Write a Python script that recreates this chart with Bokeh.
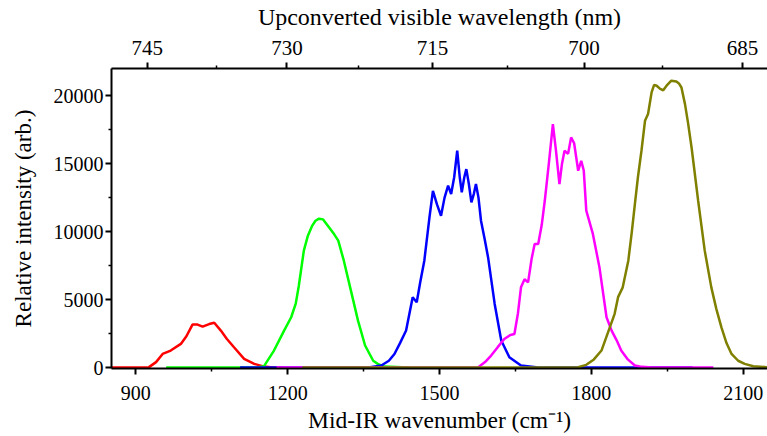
from bokeh.plotting import figure
from bokeh.models import LinearAxis, FixedTicker, CustomJSTickFormatter, Range1d
from bokeh.embed import file_html
from bokeh.resources import INLINE

# ---- data ----
red_x = [852, 880, 910, 926, 940, 953, 969, 989, 1000, 1012, 1022, 1032, 1045, 1055, 1068, 1080, 1094, 1114, 1134, 1154, 1170, 1190]
red_y = [0, 10, 0, 30, 400, 1000, 1250, 1740, 2300, 3160, 3160, 3010, 3200, 3300, 2720, 2100, 1490, 640, 270, 70, 0, 0]

green_x = [960, 1100, 1140, 1153, 1173, 1193, 1207, 1216, 1222, 1232, 1240, 1248, 1255, 1262, 1270, 1276, 1282, 1292, 1300, 1311, 1325, 1339, 1353, 1369, 1378, 1390, 1440]
green_y = [0, 0, 10, 90, 1250, 2720, 3700, 4700, 6000, 8600, 9700, 10400, 10800, 10950, 10900, 10600, 10300, 9800, 9340, 7860, 5660, 3450, 1620, 500, 270, 70, 0]

blue_x = [1106, 1360, 1385, 1400, 1411, 1422, 1434, 1447, 1455, 1462, 1470, 1480, 1487, 1495, 1503, 1510, 1517, 1523, 1529, 1535, 1540, 1544, 1549, 1553, 1558, 1563, 1568, 1572, 1577, 1582, 1589, 1596, 1609, 1622, 1638, 1661, 1695, 1760, 2000]
blue_y = [0, 0, 150, 500, 1000, 1800, 2720, 5170, 4800, 6300, 7860, 11000, 13000, 12000, 11170, 12500, 13380, 12770, 14000, 15950, 14000, 12890, 14000, 14600, 13500, 12150, 12800, 13500, 12500, 10800, 9500, 8100, 4680, 1985, 760, 150, 0, 0, 0]

magenta_x = [1178, 1560, 1576, 1590, 1602, 1615, 1628, 1640, 1648, 1655, 1661, 1668, 1675, 1682, 1688, 1695, 1702, 1708, 1716, 1724, 1730, 1737, 1742, 1747, 1754, 1760, 1766, 1774, 1780, 1785, 1790, 1803, 1816, 1830, 1840, 1850, 1859, 1872, 1886, 1900, 1919, 2041]
magenta_y = [0, 0, 0, 400, 880, 1500, 2100, 2400, 2470, 4000, 5900, 6500, 6270, 8000, 9090, 9090, 10500, 12270, 15000, 17900, 16000, 13500, 15000, 15950, 15720, 16930, 16500, 14480, 15210, 14500, 11540, 9830, 7370, 3700, 2720, 2000, 1250, 600, 150, 50, 0, 0]

olive_x = [1229, 1760, 1774, 1790, 1805, 1820, 1834, 1846, 1853, 1862, 1873, 1880, 1886, 1892, 1899, 1906, 1912, 1919, 1924, 1929, 1936, 1942, 1950, 1958, 1968, 1973, 1978, 1985, 1991, 1998, 2011, 2024, 2037, 2047, 2057, 2067, 2077, 2090, 2103, 2120, 2148]
olive_y = [0, 0, 20, 200, 600, 1250, 2700, 3950, 5200, 5900, 7860, 10000, 12020, 14000, 15950, 18150, 18650, 20240, 20800, 20730, 20500, 20400, 20800, 21100, 21040, 20900, 20600, 19380, 18000, 16190, 12270, 8600, 5900, 4300, 2960, 1800, 1000, 500, 270, 100, 20]

x_ticks = [900, 1200, 1500, 1800, 2100]
x_minor = [1050, 1350, 1650, 1950]
y_ticks = [0, 5000, 10000, 15000, 20000]
y_minor = [2500, 7500, 12500, 17500]
wl_ticks = [745, 730, 715, 700, 685]
wl_minor = [737.5, 722.5, 707.5, 692.5]
PUMP = 12500.0  # cm^-1 (800 nm pump)

FONT = "Liberation Serif"

p = figure(width=767, height=436, output_backend="svg", toolbar_location=None,
           x_range=Range1d(852, 2148), y_range=Range1d(-70, 22000),
           x_axis_location=None, y_axis_location=None,
           min_border_left=111, min_border_right=0, min_border_top=68, min_border_bottom=68)
p.outline_line_color = None
p.grid.visible = False
p.background_fill_color = "white"
p.border_fill_color = "white"


def style(ax, tick_size, label_size):
    ax.axis_line_width = 2
    ax.axis_line_color = "black"
    ax.major_tick_line_width = 2
    ax.minor_tick_line_width = 1.5
    ax.major_tick_in = 0
    ax.major_tick_out = 6
    ax.minor_tick_in = 0
    ax.minor_tick_out = 3
    ax.major_label_text_font = FONT
    ax.major_label_text_font_size = tick_size
    ax.major_label_text_color = "black"
    ax.axis_label_text_font = FONT
    ax.axis_label_text_font_size = label_size
    ax.axis_label_text_font_style = "normal"
    ax.axis_label_text_color = "black"


xb = LinearAxis(ticker=FixedTicker(ticks=x_ticks, minor_ticks=x_minor),
                axis_label="Mid-IR wavenumber (cm\u207b\u00b9)")
style(xb, "20px", "23.5px")
xb.major_label_standoff = 11
xb.axis_label_standoff = 4
p.add_layout(xb, "below")

yl = LinearAxis(ticker=FixedTicker(ticks=y_ticks, minor_ticks=y_minor),
                axis_label="Relative intensity (arb.)")
style(yl, "20px", "23px")
yl.major_label_standoff = 2
yl.axis_label_standoff = 15
p.add_layout(yl, "left")

top_pos = [1e7 / w - PUMP for w in wl_ticks]
top_minor = [1e7 / w - PUMP for w in wl_minor]
xt = LinearAxis(ticker=FixedTicker(ticks=top_pos, minor_ticks=top_minor),
                formatter=CustomJSTickFormatter(args=dict(pump=PUMP),
                                                code="return Math.round(1e7/(tick + pump)).toString();"),
                axis_label="Upconverted visible wavelength (nm)")
style(xt, "21px", "24px")
xt.major_label_standoff = 8
xt.axis_label_standoff = 8
p.add_layout(xt, "above")

lw = 2.5
p.line(red_x, red_y, line_color="#ff0000", line_width=lw)
p.line(green_x, green_y, line_color="#00ff00", line_width=lw)
p.line(blue_x, blue_y, line_color="#0000ff", line_width=lw)
p.line(magenta_x, magenta_y, line_color="#ff00ff", line_width=lw)
p.line(olive_x, olive_y, line_color="#808000", line_width=lw)

open("out.html", "w").write(file_html(p, INLINE))
